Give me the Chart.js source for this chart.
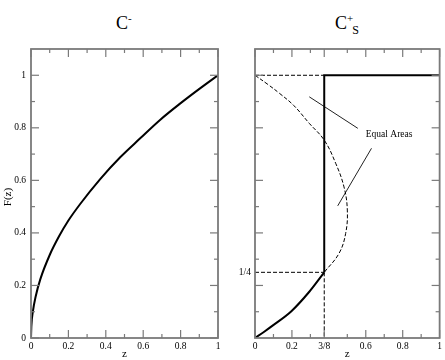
<!DOCTYPE html>
<html>
<head>
<meta charset="utf-8">
<script src="https://cdn.jsdelivr.net/npm/chart.js@4/dist/chart.umd.min.js"></script>
<style>
  html, body { margin:0; padding:0; background:#fff; }
  body { width:445px; height:360px; position:relative; overflow:hidden; font-family:'Liberation Serif','DejaVu Serif',serif; }
  #wl { position:absolute; left:0; top:0; width:230px; height:360px; }
  #wr { position:absolute; left:230px; top:0; width:215px; height:360px; }
  .ttl { position:absolute; top:8px; font-size:18px; color:#000; line-height:20px; white-space:nowrap; }
  .ttl sup { font-size:11px; vertical-align:7px; }
  .ttl sub { font-size:12px; vertical-align:-5px; }
</style>
</head>
<body>
<div class="ttl" id="tl" style="left:116px;">C<sup>-</sup></div>
<div class="ttl" id="tr" style="left:335px;">C<sup>+</sup><sub style="margin-left:-1px">S</sub></div>
<div id="wl"><canvas id="cl" width="230" height="360"></canvas></div>
<div id="wr"><canvas id="cr" width="215" height="360"></canvas></div>
<script>
// ---- data ----
const leftZ = [0, 0.002, 0.01, 0.025, 0.05, 0.1, 0.15, 0.2, 0.263, 0.37, 0.477, 0.584, 0.69, 0.797, 0.904, 1];
const leftF = [0, 0.045, 0.1, 0.158, 0.224, 0.316, 0.387, 0.447, 0.51, 0.605, 0.688, 0.76, 0.83, 0.892, 0.95, 1];

const solidLowZ = [0, 0.05, 0.097, 0.197, 0.294, 0.375];
const solidLowF = [0, 0.024, 0.048, 0.102, 0.176, 0.25];
const solidStepZ = [0.375, 0.375, 1];
const solidStepF = [0.25, 1, 1];

const dashCurveZ = [0, 0.07, 0.133, 0.21, 0.294, 0.375, 0.437, 0.482, 0.5, 0.491, 0.455, 0.375];
const dashCurveF = [1, 0.965, 0.931, 0.885, 0.817, 0.753, 0.665, 0.575, 0.487, 0.398, 0.322, 0.25];

const dashTopZ = [0, 0.375];
const dashTopF = [1, 1];
const dashQuarterZ = [0, 0.375];
const dashQuarterF = [0.25, 0.25];
const dashVertZ = [0.375, 0.375];
const dashVertF = [0.25, 0];

const pointer1Z = [0.294, 0.557];
const pointer1F = [0.918, 0.798];
const pointer2Z = [0.631, 0.448];
const pointer2F = [0.722, 0.503];
const annotationText = 'Equal Areas';
const annotationZ = 0.6;
const annotationF = 0.776;

const leftXTicks = [0, 0.2, 0.4, 0.6, 0.8, 1];
const leftXTickLabels = ['0', '0.2', '0.4', '0.6', '0.8', '1'];
const leftYTicks = [0, 0.2, 0.4, 0.6, 0.8, 1];
const leftYTickLabels = ['0', '0.2', '0.4', '0.6', '0.8', '1'];
const rightXTicks = [0, 0.2, 0.375, 0.6, 0.8, 1];
const rightXTickLabels = ['0', '0.2', '3/8', '0.6', '0.8', '1'];
const rightYTicks = [0.25];
const rightYTickLabels = ['1/4'];
const minorTicks = [0.1, 0.3, 0.5, 0.7, 0.9];
const rightYMajor = [0.2, 0.4, 0.6, 0.8, 1];

const xTitle = 'z';
const yTitle = 'F(z)';

// ---- helpers ----
const FONT = "'Liberation Serif','DejaVu Serif',serif";
const FRAME = '#7a7a7a';
const pts = (xs, ys) => xs.map((v, i) => ({x: v, y: ys[i]}));

const framePlugin = {
  id: 'frame',
  afterDatasetsDraw(chart) {
    const o = chart.options.plugins.frame;
    const {ctx, chartArea: {left, right, top, bottom}, scales: {x, y}} = chart;
    ctx.save();
    ctx.strokeStyle = FRAME;
    const ln = (a, b, c, d) => { ctx.beginPath(); ctx.moveTo(a, b); ctx.lineTo(c, d); ctx.stroke(); };
    ctx.lineWidth = 1.2;
    const xt = (v, len) => { const p = x.getPixelForValue(v); ln(p, bottom, p, bottom - len); ln(p, top, p, top + len); };
    const yt = (v, len) => { const p = y.getPixelForValue(v); ln(left, p, left + len, p); ln(right, p, right - len, p); };
    o.xMajor.forEach(v => xt(v, 8));
    o.xMinor.forEach(v => xt(v, 4));
    o.yMajor.forEach(v => yt(v, 8));
    o.yMinor.forEach(v => yt(v, 4));
    ctx.lineWidth = 1.8;
    ctx.strokeRect(left, top, right - left, bottom - top);
    ctx.restore();
  },
  afterDraw(chart) {
    const o = chart.options.plugins.frame;
    const {ctx, chartArea: {left, right}, scales: {x, y}} = chart;
    ctx.save();
    ctx.fillStyle = '#000';
    ctx.font = '11px ' + FONT;
    ctx.textAlign = 'center';
    ctx.textBaseline = 'middle';
    ctx.fillText(xTitle, (left + right) / 2, 354);
    if (o.yTitle) {
      ctx.save();
      ctx.translate(8, 197);
      ctx.rotate(-Math.PI / 2);
      ctx.fillText(o.yTitle, 0, 0);
      ctx.restore();
    }
    if (o.note) {
      ctx.font = '9.5px ' + FONT;
      ctx.textAlign = 'left';
      ctx.fillText(o.note.text, x.getPixelForValue(o.note.z), y.getPixelForValue(o.note.f));
    }
    ctx.restore();
  }
};

function scales(xTicks, xLabels, yTicks, yLabels, yWidth, yPad) {
  const tickFont = {family: FONT, size: 9.5};
  return {
    x: {
      type: 'linear', min: 0, max: 1,
      grid: {display: false, drawTicks: false},
      border: {display: false},
      afterBuildTicks: s => { s.ticks = xTicks.map(v => ({value: v})); },
      afterFit: s => { s.height = 22; },
      ticks: {color: '#000', font: tickFont, padding: 3, maxRotation: 0, autoSkip: false,
        callback: (v, i) => xLabels[i]}
    },
    y: {
      type: 'linear', min: 0, max: 1.1,
      grid: {display: false, drawTicks: false},
      border: {display: false},
      afterBuildTicks: s => { s.ticks = yTicks.map(v => ({value: v})); },
      afterFit: s => { s.width = yWidth; },
      ticks: {color: '#000', font: tickFont, padding: yPad, autoSkip: false,
        callback: (v, i) => yLabels[i]}
    }
  };
}

const common = {
  responsive: false,
  animation: false,
  events: [],
  elements: {point: {radius: 0}}
};

new Chart(document.getElementById('cl'), {
  type: 'line',
  data: {datasets: [{
    data: pts(leftZ, leftF), borderColor: '#000', borderWidth: 2, fill: false,
    cubicInterpolationMode: 'monotone', pointRadius: 0
  }]},
  options: Object.assign({}, common, {
    layout: {padding: {left: 0, right: 12, top: 49, bottom: 0}},
    plugins: {legend: {display: false}, tooltip: {enabled: false},
      frame: {xMajor: leftXTicks, xMinor: minorTicks, yMajor: leftYTicks, yMinor: minorTicks, yTitle: yTitle}},
    scales: scales(leftXTicks, leftXTickLabels, leftYTicks, leftYTickLabels, 31, 5)
  }),
  plugins: [framePlugin]
});

const dash = [4, 2];
const ds = (xs, ys, extra) => Object.assign({data: pts(xs, ys), borderColor: '#000', borderWidth: 1, fill: false, pointRadius: 0, tension: 0}, extra);
new Chart(document.getElementById('cr'), {
  type: 'line',
  data: {datasets: [
    ds(dashCurveZ, dashCurveF, {borderDash: dash, tension: 0.4}),
    ds(dashTopZ, dashTopF, {borderDash: dash}),
    ds(dashQuarterZ, dashQuarterF, {borderDash: dash}),
    ds(dashVertZ, dashVertF, {borderDash: dash}),
    ds(solidLowZ, solidLowF, {borderWidth: 2, cubicInterpolationMode: 'monotone'}),
    ds(solidStepZ, solidStepF, {borderWidth: 2}),
    ds(pointer1Z, pointer1F, {borderColor: '#222'}),
    ds(pointer2Z, pointer2F, {borderColor: '#222'})
  ]},
  options: Object.assign({}, common, {
    layout: {padding: {left: 0, right: 4, top: 49, bottom: 0}},
    plugins: {legend: {display: false}, tooltip: {enabled: false},
      frame: {xMajor: rightXTicks, xMinor: minorTicks, yMajor: rightYMajor, yMinor: minorTicks,
        note: {text: annotationText, z: annotationZ, f: annotationF}}},
    scales: scales(rightXTicks, rightXTickLabels, rightYTicks, rightYTickLabels, 25, 4)
  }),
  plugins: [framePlugin]
});
</script>
</body>
</html>
